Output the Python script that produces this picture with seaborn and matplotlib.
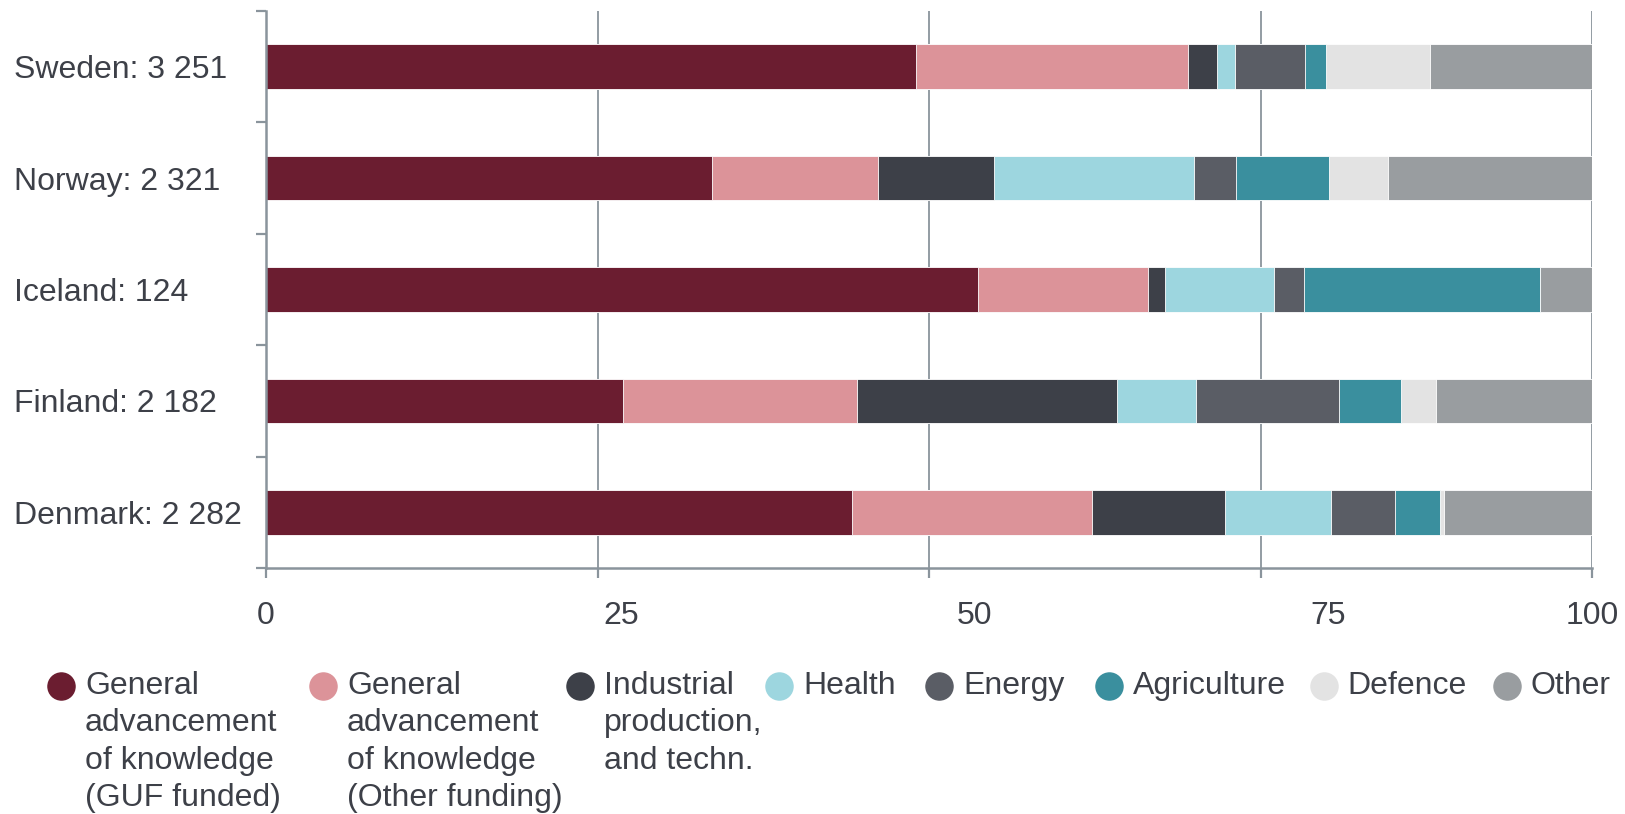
import numpy as np
import pandas as pd
import matplotlib
matplotlib.use("Agg")
import matplotlib.pyplot as plt
from matplotlib.lines import Line2D
from matplotlib.transforms import ScaledTranslation
import seaborn as sns

countries = ["Sweden: 3 251", "Norway: 2 321", "Iceland: 124", "Finland: 2 182", "Denmark: 2 282"]
guf = [49.0, 33.6, 53.7, 26.9, 44.2]
other_funding = [20.5, 12.55, 12.8, 17.7, 18.1]
industrial = [2.2, 8.75, 1.3, 19.6, 10.0]
health = [1.4, 15.05, 8.2, 5.9, 8.05]
energy = [5.25, 3.2, 2.3, 10.8, 4.8]
agriculture = [1.6, 7.0, 17.8, 4.7, 3.35]
defence = [7.8, 4.45, 0.0, 2.6, 0.35]
other = [12.25, 15.4, 3.9, 11.8, 11.15]

series_labels = ["General\nadvancement\nof knowledge\n(GUF funded)",
                 "General\nadvancement\nof knowledge\n(Other funding)",
                 "Industrial\nproduction,\nand techn.",
                 "Health", "Energy", "Agriculture", "Defence", "Other"]
series_values = [guf, other_funding, industrial, health, energy, agriculture, defence, other]
colors = ["#6b1d30", "#dc9399", "#3d4048", "#9dd6df", "#5a5d65", "#3a8f9e", "#e3e3e3", "#999da0"]
xticks = [0, 25, 50, 75, 100]
xtick_labels = ["0", "25", "50", "75", "100"]

sns.set_style("white")
plt.rcParams['font.family'] = ['Liberation Sans', 'DejaVu Sans']
TXT = "#3d4048"
AX = "#8a949c"
FS = 23

W, H = 1625, 814
fig = plt.figure(figsize=(W / 100, H / 100), dpi=100)
ax = fig.add_axes([266 / W, 1 - 568 / H, (1592 - 266) / W, (568 - 11) / H])

cum = np.cumsum(np.array(series_values), axis=0)
for k in reversed(range(len(series_values))):
    df = pd.DataFrame({"country": countries, "value": cum[k]})
    sns.barplot(data=df, x="value", y="country", order=countries, orient="h",
                color=colors[k], saturation=1, width=0.4, ax=ax,
                edgecolor="white", linewidth=0.6, zorder=3)

ax.set_xlim(0, 100)
ax.set_ylim(4.5, -0.5)
ax.set_xlabel("")
ax.set_ylabel("")

ax.set_xticks(xticks)
ax.set_xticklabels(xtick_labels)
ax.grid(axis="x", color=AX, linewidth=1.3, zorder=0)
ax.grid(axis="y", visible=False)

ax.set_yticks(range(len(countries)))
ax.set_yticklabels(countries)
ax.set_yticks(np.arange(-0.5, len(countries), 1.0), minor=True)
ax.tick_params(axis="y", which="major", length=0, pad=181.5, labelsize=FS, labelcolor=TXT)
for lab in ax.get_yticklabels():
    lab.set_horizontalalignment("left")
ax.tick_params(axis="y", which="minor", length=7.5, width=1.6, color=AX, left=True)
ax.tick_params(axis="x", which="major", length=7.5, width=1.6, color=AX, pad=16,
               labelsize=FS, labelcolor=TXT, bottom=True)

label_dx = [0, 24, 45, 68, 0]
for lab, dx in zip(ax.get_xticklabels(), label_dx):
    lab.set_transform(lab.get_transform() + ScaledTranslation(dx / 100, 0, fig.dpi_scale_trans))

for s in ["top", "right"]:
    ax.spines[s].set_visible(False)
for s in ["left", "bottom"]:
    ax.spines[s].set_color(AX)
    ax.spines[s].set_linewidth(1.8)
    ax.spines[s].set_zorder(5)

marker_x = [61, 323, 580, 779, 939, 1109, 1323.5, 1506.6]
marker_y = 686
for mx, lab, col in zip(marker_x, series_labels, colors):
    fig.add_artist(Line2D([mx / W], [1 - marker_y / H], transform=fig.transFigure,
                          marker="o", markersize=19.5, color=col, linestyle="none"))
    fig.text((mx + 24) / W, 1 - 671 / H, lab, ha="left", va="top", fontsize=FS,
             color=TXT, linespacing=1.32)

fig.savefig("out.png", dpi=100)
